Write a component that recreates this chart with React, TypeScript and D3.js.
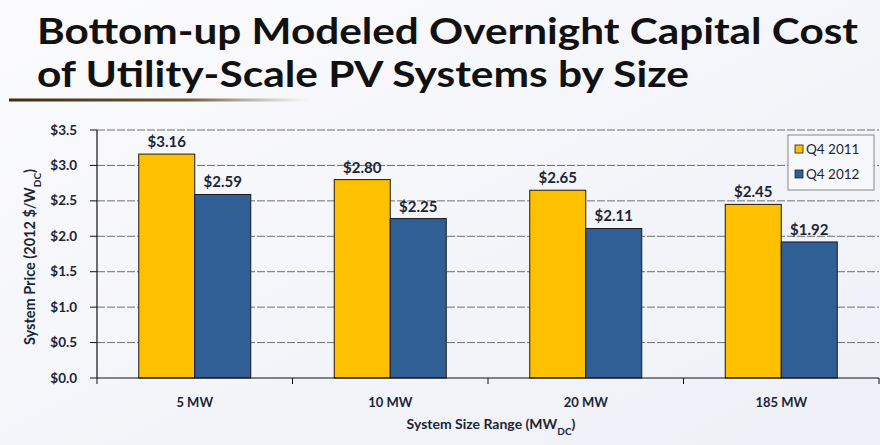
import React from "react";
import * as d3 from "d3";

const categories = ["5 MW", "10 MW", "20 MW", "185 MW"];
const seriesNames = ["Q4 2011", "Q4 2012"];
const q4_2011 = [3.16, 2.8, 2.65, 2.45];
const q4_2012 = [2.59, 2.25, 2.11, 1.92];
const yTicks = [0, 0.5, 1.0, 1.5, 2.0, 2.5, 3.0, 3.5];
const colors = ["#FFC000", "#2F5F94"];

const W = 880;
const H = 445;
const left = 97;
const right = 879;
const top = 130;
const bottom = 378;
const font = "Lato, 'Open Sans', sans-serif";

export default function App() {
  const x = d3.scaleBand<string>().domain(categories).range([left, right]).paddingInner(0).paddingOuter(0);
  const y = d3.scaleLinear().domain([0, 3.5]).range([bottom, top]);
  const bw = 56;
  const series = [q4_2011, q4_2012];

  return (
    <svg width={W} height={H} style={{ position: "absolute", left: 0, top: 0, display: "block" }}>
      <defs>
        <linearGradient id="bg" x1="0" y1="0" x2="1" y2="1">
          <stop offset="0" stopColor="#fbfbfd" />
          <stop offset="1" stopColor="#eef0f7" />
        </linearGradient>
        <linearGradient id="ul" x1="0" y1="0" x2="1" y2="0">
          <stop offset="0" stopColor="#3b2e12" stopOpacity="1" />
          <stop offset="0.6" stopColor="#5a4a22" stopOpacity="0.9" />
          <stop offset="1" stopColor="#8a7a50" stopOpacity="0" />
        </linearGradient>
      </defs>
      <rect x={0} y={0} width={W} height={H} fill="url(#bg)" />
      <text x={37} y={44} fontFamily={font} fontWeight={700} fontSize={36} fill="#111"
        textLength={821} lengthAdjust="spacingAndGlyphs">Bottom-up Modeled Overnight Capital Cost</text>
      <text x={37} y={87} fontFamily={font} fontWeight={700} fontSize={36} fill="#111"
        textLength={652} lengthAdjust="spacingAndGlyphs">of Utility-Scale PV Systems by Size</text>
      <rect x={9} y={98.5} width={300} height={3} fill="url(#ul)" />

      {/* gridlines */}
      {yTicks.filter((t) => t > 0).map((t) => (
        <line key={"g" + t} x1={left} x2={right} y1={y(t)} y2={y(t)} stroke="#707070" strokeWidth={1} strokeDasharray="8,2" />
      ))}

      {/* bars */}
      {categories.map((c, i) => {
        const cx = (x(c) as number) + x.bandwidth() / 2;
        return series.map((s, j) => {
          const bx = cx - bw + j * bw;
          return (
            <g key={c + j}>
              <rect x={bx} y={y(s[i])} width={bw} height={bottom - y(s[i])} fill={colors[j]} stroke="#1a1a1a" strokeWidth={1} />
              <text x={bx + bw / 2} y={y(s[i]) - 7} textAnchor="middle" fontFamily={font} fontWeight={700} fontSize={15} fill="#1c2533">
                {"$" + s[i].toFixed(2)}
              </text>
            </g>
          );
        });
      })}

      {/* y axis */}
      <line x1={left} x2={left} y1={top} y2={bottom} stroke="#111" strokeWidth={1.2} />
      {yTicks.map((t) => (
        <g key={"t" + t}>
          <line x1={left - 7} x2={left} y1={y(t)} y2={y(t)} stroke="#111" strokeWidth={1} />
          <text x={77} y={y(t) + 4.5} textAnchor="end" fontFamily={font} fontWeight={700} fontSize={13.5} fill="#1c2533">
            {"$" + t.toFixed(1)}
          </text>
        </g>
      ))}

      {/* x axis */}
      <line x1={left} x2={right} y1={bottom} y2={bottom} stroke="#111" strokeWidth={1.2} />
      {categories.map((c, i) => (
        <g key={"x" + c}>
          <line x1={(x(c) as number) + x.bandwidth()} x2={(x(c) as number) + x.bandwidth()} y1={bottom} y2={bottom + 6} stroke="#111" />
          <text x={(x(c) as number) + x.bandwidth() / 2} y={407} textAnchor="middle" fontFamily={font} fontWeight={700} fontSize={13} fill="#1c2533">
            {c}
          </text>
        </g>
      ))}
      <line x1={left} x2={left} y1={bottom} y2={bottom + 6} stroke="#111" />

      <text x={491} y={429} textAnchor="middle" fontFamily={font} fontWeight={700} fontSize={14} fill="#1c2533">
        System Size Range (MW<tspan baselineShift="sub" fontSize={10}>DC</tspan>)
      </text>

      <text transform="translate(35,257) rotate(-90)" textAnchor="middle" fontFamily={font} fontWeight={700} fontSize={14.5} fill="#1c2533">
        System Price (2012 $/W<tspan baselineShift="sub" fontSize={10}>DC</tspan>)
      </text>

      {/* legend */}
      <rect x={788} y={135} width={86} height={55} fill="#f7f8fb" stroke="#888" strokeWidth={1} />
      {seriesNames.map((n, j) => (
        <g key={n}>
          <rect x={795} y={145 + j * 25} width={8} height={8} fill={colors[j]} stroke="#222" strokeWidth={0.8} />
          <text x={806} y={154 + j * 25} fontFamily={font} fontSize={13.5} fill="#1c2533">{n}</text>
        </g>
      ))}
    </svg>
  );
}
